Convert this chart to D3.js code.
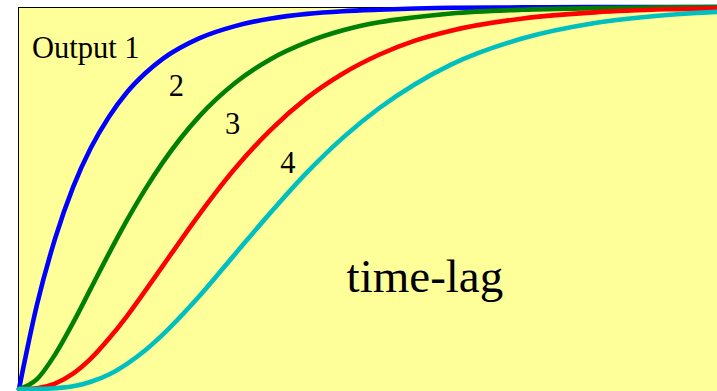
<!DOCTYPE html>
<html>
<head>
<meta charset="utf-8">
<script src="https://cdn.jsdelivr.net/npm/d3@7"></script>
<style>
  html, body { margin: 0; padding: 0; background: #ffffff; }
  svg { display: block; }
</style>
</head>
<body>
<svg id="chart" width="717" height="391"></svg>
<script>
// time axis (in units of one lag time constant)
const time = [0, 0.25, 0.5, 0.75, 1, 1.25, 1.5, 1.75, 2, 2.5, 3, 3.5, 4, 4.5, 5, 5.5, 6, 7, 8, 9, 10];

// responses of the four outputs (0 = start, 1 = final level)
const output1 = [0, 0.221, 0.393, 0.528, 0.632, 0.713, 0.777, 0.826, 0.865, 0.918, 0.950, 0.970, 0.982, 0.989, 0.993, 0.996, 0.998, 0.999, 1.0, 1.0, 1.0];
const output2 = [0, 0.026, 0.090, 0.173, 0.264, 0.355, 0.442, 0.522, 0.594, 0.713, 0.801, 0.864, 0.908, 0.939, 0.960, 0.973, 0.983, 0.993, 0.997, 0.999, 1.0];
const output3 = [0, 0.002, 0.014, 0.040, 0.080, 0.132, 0.191, 0.256, 0.323, 0.456, 0.577, 0.679, 0.762, 0.826, 0.875, 0.912, 0.938, 0.970, 0.986, 0.994, 0.997];
const output4 = [0, 0.000, 0.002, 0.007, 0.019, 0.038, 0.066, 0.101, 0.143, 0.242, 0.353, 0.463, 0.567, 0.658, 0.735, 0.798, 0.849, 0.918, 0.958, 0.979, 0.990];

const seriesNames = ["Output 1", "2", "3", "4"];
const seriesColors = ["#0000FF", "#008000", "#FF0000", "#00BFBF"];
const seriesValues = [output1, output2, output3, output4];

// label anchor points (in data units) for the series labels
const labelTime = [0.18, 2.08, 2.86, 3.63];
const labelValue = [0.867, 0.767, 0.668, 0.565];
const titleText = "time-lag";
const titleTime = 4.55;
const titleValue = 0.254;

const svg = d3.select("#chart");
const x = d3.scaleLinear().domain([0, 10]).range([19, 739]);
const y = d3.scaleLinear().domain([0, 1]).range([389, 7]);

// plot background with border
svg.append("rect")
  .attr("x", x(0) - 0.5)
  .attr("y", y(1) + 0.5)
  .attr("width", 800)
  .attr("height", 500)
  .attr("fill", "#FFFF99")
  .attr("stroke", "#000")
  .attr("stroke-width", 1);

const line = d3.line()
  .x((d, i) => x(time[i]))
  .y(d => y(d))
  .curve(d3.curveMonotoneX);

seriesValues.forEach((vals, k) => {
  svg.append("path")
    .datum(vals)
    .attr("d", line)
    .attr("fill", "none")
    .attr("stroke", seriesColors[k])
    .attr("stroke-width", 4.6)
    .attr("stroke-linecap", "round")
    .attr("stroke-linejoin", "round");
});

seriesNames.forEach((name, k) => {
  svg.append("text")
    .attr("x", x(labelTime[k]))
    .attr("y", y(labelValue[k]))
    .attr("font-family", "'Liberation Serif', 'Times New Roman', serif")
    .attr("font-size", 30.5)
    .attr("fill", "#000")
    .text(name);
});

svg.append("text")
  .attr("x", x(titleTime))
  .attr("y", y(titleValue))
  .attr("font-family", "'Liberation Serif', 'Times New Roman', serif")
  .attr("font-size", 47)
  .attr("fill", "#000")
  .text(titleText);
</script>
</body>
</html>
